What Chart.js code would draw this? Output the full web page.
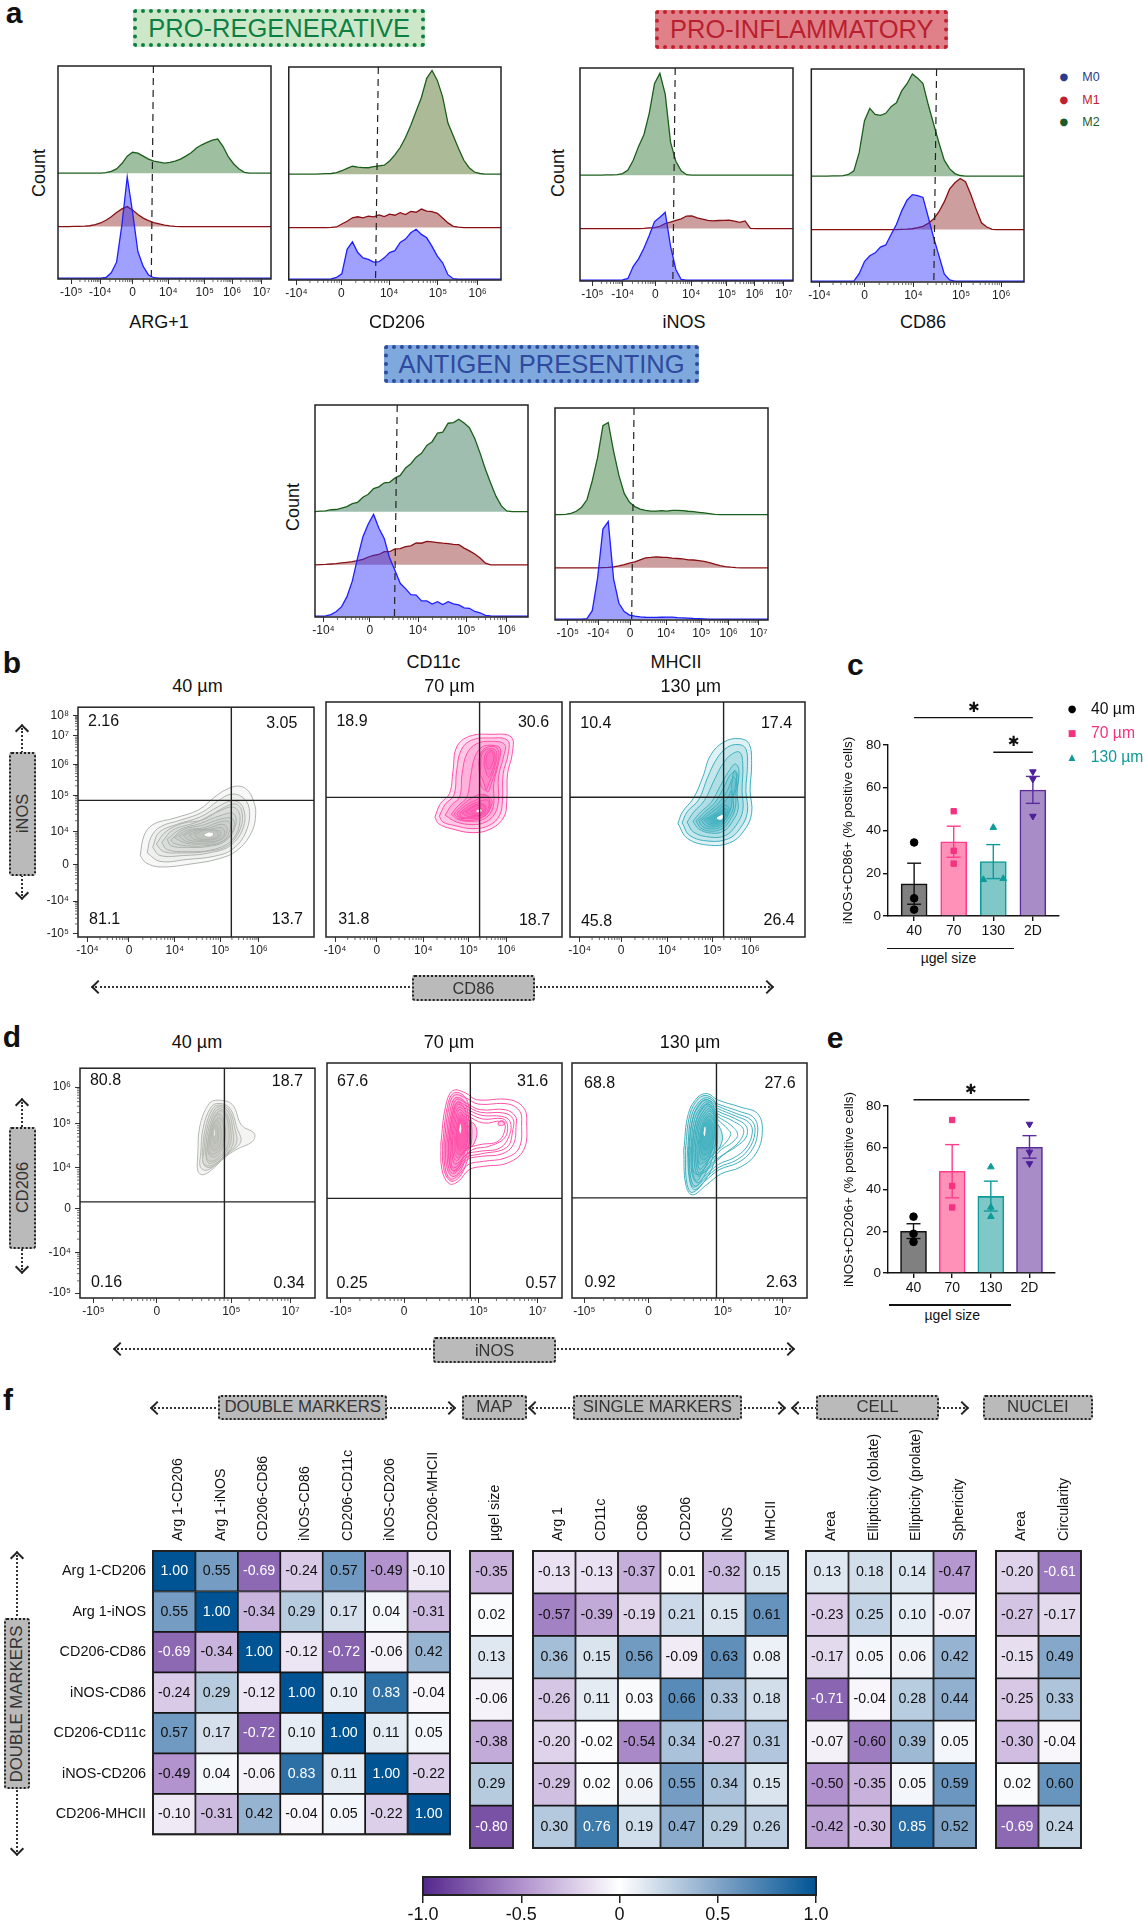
<!DOCTYPE html>
<html>
<head>
<meta charset="utf-8">
<title>Macrophage marker panels</title>
<script src="https://cdn.jsdelivr.net/npm/chart.js@4/dist/chart.umd.js"></script>
<style>
    html, body { margin: 0; padding: 0; background: #fff; }
    #figure { position: relative; width: 1143px; height: 1920px; overflow: hidden; font-family: "Liberation Sans", Arial, sans-serif; color: #111; }
    #figure canvas { position: absolute; }
    .txt { position: absolute; white-space: nowrap; transform: translate(-50%, -50%); line-height: 1; }
    .box { position: absolute; box-sizing: border-box; border-radius: 3px; display: flex; align-items: center; justify-content: center; white-space: nowrap; }
    .rule { position: absolute; background: #111; }
    .dots { position: absolute; box-sizing: border-box; }
    .chev { position: absolute; width: 10px; height: 10px; box-sizing: border-box; border-left: 2.5px solid #222; border-top: 2.5px solid #222; }
</style>
</head>
<body>
<div id="figure"></div>
<script>
// --- histogram data (panel a): heights in % of the plot, one value per channel ---
const channels = [0,2.5,5,7.5,10,12.5,15,17.5,20,22.5,25,27.5,30,32.5,35,37.5,40,42.5,45,47.5,50,52.5,55,57.5,60,62.5,65,67.5,70,72.5,75,77.5,80,82.5,85,87.5,90,92.5,95,97.5,100];
const baselines = [0.4, 24.6, 49.7];

const arg1M0 = [0,0,0,0,0,0,0,0,0,.3, 2.5,7.5,25,47.5,31,12.5,5.5,1.5,.2,0, 0,0,0,0,0,0,0,0,0,0, 0,0,0,0,0,0,0,0,0,0, 0];
const arg1M1 = [0,0,0,.1,.1,.2,.4,.9,1.7,3, 4.6,6.6,8.3,9.4,7.8,5.7,4,2.8,1.9,1.3, .7,.3,.1,0,0,0,0,0,0,0, 0,0,0,0,0,0,0,0,0,0, 0];
const arg1M2 = [0,0,0,0,0,0,0,0,0,.2, .8,2,4.5,8,9.8,9.4,8,6.6,5.6,5.2, 4.7,5.1,5.6,6.6,8,9.6,11.8,13.3,14.4,15.5, 16,12.5,7.6,4.3,1.9,.4,0,0,0,0, 0];
const cd206M0 = [0,0,0,0,0,0,0,0,.1,.8, 2.5,14,17.5,12.5,10,9.3,8,8.2,10,12.5, 13.4,17.2,18.8,21.8,23.4,21,19.4,15.4,10.8,7.7, 2.1,.2,0,0,0,0,0,0,0,0, 0];
const cd206M1 = [0,0,0,0,0,0,0,0,.1,.3, 1.7,3,4.6,5.1,4.6,5.4,5,6,5.2,6.3, 5.8,7,6.1,7.6,7.2,8.7,7.7,7.5,6.7,4.5, 2.2,.6,.2,0,0,0,0,0,0,0, 0];
const cd206M2 = [0,0,0,0,0,0,.1,.2,.3,.7, 1.6,2.7,3.7,3.3,3.1,3,3.5,3.9,4.2,6.2, 9,12.5,17.2,23,29.5,36,45,48.7,44,36.3, 24,18,12,6.5,3,1,.3,0,0,0, 0];
const inosM0 = [0,0,0,0,0,0,0,0,.1,.8, 6.5,10,15,21,27.5,29.5,31.8,16,5,.3, 0,0,0,0,0,0,0,0,0,0, 0,0,0,0,0,0,0,0,0,0, 0];
const inosM1 = [0,0,0,0,0,0,0,0,0,0, 0,0,.1,.3,.5,1.1,2.4,3,3.9,4.6, 5.9,6,5,4.5,3.9,3.6,3.8,3.9,4,3.5, 2.9,3.6,.1,0,0,0,0,0,0,0, 0];
const inosM2 = [0,0,0,0,0,.1,.1,.2,.7,2.4, 7,13.5,19,29,43,47.8,38,15.5,6.5,2, .2,0,0,0,0,0,0,0,0,0, 0,0,0,0,0,0,0,0,0,0, 0];
const cd86M0 = [0,0,0,0,0,0,0,0,0,3.5, 9.2,11.9,13.3,16,17,21.9,26.6,33,38,40.6, 40.2,39.3,30,20.5,12,3.4,.6,0,0,0, 0,0,0,0,0,0,0,0,0,0, 0];
const cd86M1 = [0,0,0,0,0,0,0,0,0,0, 0,0,0,0,0,0,0,.1,.2,.4, .9,1.5,3,5,8.4,13,19,22,24,22.5, 16.5,9.5,3.2,1.2,.1,0,0,0,0,0, 0];
const cd86M2 = [0,0,0,0,.1,.1,.2,.8,2.5,11, 26,31.8,29,28.5,29.5,32.6,34.4,40,43.4,48, 46,43.5,33.5,24.5,15.7,7.5,3.5,1.2,.3,0, 0,0,0,0,0,0,0,0,0,0, 0];
const cd11cM0 = [0,0,.1,.7,2.2,4.5,9.2,16.5,27.5,37.5, 43.5,48,41.5,36.6,27.5,21.6,15.5,13,10.1,9.9, 7.2,7.2,5.7,6.8,5.5,6.8,5.8,5.3,3.9,3.7, 2.2,1.6,.4,.1,0,0,0,0,0,0, 0];
const cd11cM1 = [0,.1,.2,.4,.6,.9,1.2,1.5,2,2.6, 3.7,4.5,4.9,6.2,6.2,7.5,7.7,8.6,9,10.3, 10.2,11.1,10.8,10.5,10.2,10,9.7,9.5,7.9,6.6, 5.1,3.2,.8,0,0,0,0,0,0,0, 0];
const cd11cM2 = [0,.2,.4,.9,1,1.7,2.4,3.8,4.4,6.8, 8.2,10.9,11.7,13.6,13.8,15.8,17.1,20.6,22.6,25.7, 27.5,31.2,33,37,37.5,41.7,42,43.6,41.8,39.6, 34.5,27.6,20,13.4,7.2,2.7,.3,0,0,0, 0];
const mhciiM0 = [0,0,0,0,0,0,.2,4,19.5,42.5, 46,19,7.5,3.6,1.9,1.4,1.1,.9,.8,.8, .9,1,1,.7,.6,.5,.3,.2,.1,0, 0,0,0,0,0,0,0,0,0,0, 0];
const mhciiM1 = [0,0,0,0,0,0,0,0,0,.1, .2,.5,.9,1.5,2.2,2.8,3.8,4.7,4.9,5.2, 5,4.9,4.6,4.4,4.2,3.8,3.7,3.4,3.1,2.5, 1.7,1,.6,.3,.1,0,0,0,0,0, 0];
const mhciiM2 = [0,0,.1,.6,1.6,3.5,7,16,27,42, 43.5,30,18.5,10,5.8,3.8,2.6,2,1.7,1.7, 1.9,1.7,2,2,1.9,1.6,1.4,1.1,.8,.5, .1,0,0,0,0,0,0,0,0,0, 0];

// histogram tick labels and where they sit on each channel axis
const longDecades = ['-10⁵','-10⁴','0','10⁴','10⁵','10⁶','10⁷'];
const shortDecades = ['-10⁴','0','10⁴','10⁵','10⁶'];
const arg1Ticks = [6.2,19.8,35,51.8,68.9,81.7,95.6];
const cd206Ticks = [3.6,24.8,47.3,70.3,89];
const inosTicks = [5.8,20,35.4,52.2,69,82,95.7];
const cd86Ticks = [3.8,25,48,70.4,89.3];
const cd11cTicks = [4,25.7,48.4,71,90];
const mhciiTicks = [6,20.4,35.3,52.2,68.7,81.5,95.6];

// dashed gates: channel at the top and at the bottom of the plot
const arg1Gate = [44.8,43.8];
const cd206Gate = [42.2,40.9];
const inosGate = [44.7,43.6];
const cd86Gate = [58.9,57.6];
const cd11cGate = [38.6,37.3];
const mhciiGate = [37.1,36];

// --- contour rings (panels b, d): flat x,y channel pairs, outermost ring first ---
const b40Rings = [
    [171,250,181,310,206,345,266,365,331,390,376,430,406,452,441,463,466,450,481,420,488,380,476,320,436,265,386,240,316,225,226,215,186,228],
    [190,258,200,305,226,338,280,358,340,382,385,418,420,438,450,430,470,395,462,325,425,270,375,248,300,238,225,232],
    [205,275,222,320,270,345,335,368,385,400,425,418,452,400,455,340,420,282,360,258,290,250,225,250],
    [215,285,240,322,285,348,345,360,392,392,432,408,450,385,445,330,410,280,350,262,285,258,235,262],
    [230,290,260,328,325,352,385,385,428,398,445,365,425,300,370,268,300,262,245,268],
    [245,300,280,330,335,348,390,372,428,378,432,340,405,295,360,278,300,275,255,280],
    [255,298,290,330,340,342,392,362,425,362,425,325,395,292,350,280,298,280,262,288],
    [265,305,300,328,345,335,395,355,418,350,410,310,385,288,345,285,295,288],
    [278,308,312,328,352,332,396,346,410,332,395,300,350,288,300,292],
    [290,312,325,328,360,330,395,335,402,315,380,295,345,293,305,297],
    [305,313,338,328,370,328,392,322,385,303,350,297,318,300],
    [320,315,350,328,380,325,385,310,360,300,330,302]
];
const b40Hole = [345,315,358,322,372,318,368,308,350,308];
const b70Rings = [
    [300,360,315,400,340,430,350,500,360,570,395,602,455,608,510,600,513,550,500,490,498,410,490,360,455,325,405,313,345,325,310,340],
    [312,362,328,398,352,425,360,500,372,560,400,590,455,597,500,590,502,550,488,490,486,410,478,365,450,335,405,325,352,335,322,345],
    [328,365,345,395,368,420,375,490,388,550,415,580,455,587,492,578,490,545,475,480,475,410,465,370,440,345,405,337,360,345],
    [345,368,365,395,388,420,398,480,410,540,430,570,460,575,480,565,475,520,462,460,462,400,452,370,430,352,400,347,365,352],
    [352,369,375,395,400,416,430,428,456,412,452,385,435,362,400,350,366,355],
    [432,470,422,500,428,555,455,572,475,560,470,510,458,468,445,435],
    [360,370,385,395,415,412,440,425,452,400,445,372,425,358,395,355,368,358],
    [368,371,392,392,420,406,446,410,447,385,432,366,395,358,372,360],
    [425,500,432,555,455,565,470,555,465,510,452,470,438,440,425,460],
    [435,515,440,552,457,560,466,545,460,505,448,480],
    [375,372,400,390,425,400,440,392,435,372,415,362,390,362],
    [385,375,410,392,432,395,440,385,425,367,400,366],
    [440,525,445,550,458,555,462,535,452,505,445,505],
    [400,378,420,388,432,380,425,370,405,370]
];
const b70Hole = [410,378,425,385,430,378,420,373];
const b130Rings = [
    [281,341,293,376,321,416,346,481,366,546,401,586,441,596,466,581,473,521,469,441,473,371,451,316,416,283,361,276,306,296],
    [292,343,305,376,335,412,358,478,382,535,410,570,440,578,458,565,462,515,458,440,462,375,442,325,412,295,362,288,312,305],
    [305,345,322,375,350,410,375,470,398,520,420,548,442,555,450,520,448,440,450,380,432,335,405,305,365,300,322,315],
    [320,348,340,375,368,405,392,455,412,495,430,520,440,500,435,430,438,385,422,345,400,318,368,312,335,325],
    [328,349,350,375,376,402,400,448,418,488,432,495,432,430,430,385,416,350,396,325,366,318,340,328],
    [335,350,360,375,385,400,410,440,425,480,432,470,425,420,425,385,410,352,392,330,365,325,345,332],
    [420,450,428,500,438,480,432,440,425,425],
    [342,351,368,374,394,398,412,420,420,440,420,392,402,348,388,334,364,331,352,336],
    [350,352,378,372,402,395,415,385,405,355,385,338,362,338],
    [358,353,384,372,404,386,410,378,402,357,384,342,365,342],
    [365,355,390,372,405,378,400,358,382,345,368,347],
    [372,356,394,370,404,372,398,356,383,349,372,350]
];
const b130Hole = [380,358,395,368,403,365,395,352,385,352];
const d40Rings = [
    [324,445,329,525,354,595,379,607,419,593,444,530,479,505,474,480,429,455,397,430,369,400,339,378,324,390],
    [332,445,338,520,360,585,382,597,412,582,432,520,442,480,410,445,385,420,360,398,342,392,330,405],
    [336,445,344,518,364,580,384,592,410,576,426,518,430,475,402,440,378,415,356,400,340,410],
    [340,445,348,515,368,575,385,587,408,570,420,515,420,470,395,435,372,412,352,405,338,415],
    [344,448,352,512,370,568,386,581,405,562,415,510,412,468,390,435,368,416,352,415],
    [348,450,356,510,372,560,388,575,403,555,410,505,405,465,385,435,365,420,350,425],
    [350,455,356,505,368,550,382,565,395,545,400,500,392,460,375,435,358,435],
    [354,458,360,510,372,545,385,552,394,530,395,490,386,458,370,442,358,442],
    [358,480,365,520,375,545,385,530,388,490,380,460,365,455],
    [364,490,368,520,375,530,380,510,378,480,370,475]
];
const d40Hole = [366,500,369,520,372,510,370,495];
const d70Rings = [
    [313,465,326,575,346,622,381,615,411,595,501,595,541,570,549,525,541,445,496,405,431,395,391,385,361,350,336,343,316,385],
    [322,465,334,565,350,608,382,600,415,582,498,582,530,560,535,525,528,450,490,420,430,410,388,400,358,365,338,358,324,395],
    [330,465,342,555,356,595,382,585,420,565,490,565,518,545,520,520,512,460,480,432,425,425,385,415,358,380,342,375,332,405],
    [334,465,345,550,358,588,382,577,422,557,486,555,511,538,511,505,494,452,422,432,384,422,358,388,344,383,336,412],
    [338,465,348,545,360,580,382,568,425,548,480,545,503,530,502,490,475,450,420,440,382,430,358,395,345,392,340,420],
    [342,468,351,540,362,572,382,559,428,537,482,538,496,520,488,480,445,455,400,445,358,403,347,408],
    [345,470,354,535,364,565,382,550,430,525,480,530,490,510,470,470,420,460,380,445,358,412,348,425],
    [318,465,330,570,348,615,378,605,392,560,398,480,385,410,362,360,338,352,320,392],
    [326,465,338,560,352,600,376,592,388,550,392,480,380,415,360,372,342,366,328,400],
    [334,465,345,550,358,585,375,575,384,540,386,480,375,425,358,385,346,382,336,410],
    [349,470,357,530,366,557,382,540,410,512,405,465,380,440,361,420,351,432],
    [352,470,360,525,368,550,382,530,395,490,385,450,365,430,354,440],
    [355,475,361,520,369,542,381,522,388,485,378,450,362,442],
    [358,480,363,515,370,535,380,515,382,480,372,450,360,455],
    [470,525,480,532,490,525,482,518,472,518]
];
const d70Hole = [362,505,366,525,370,515,369,495,364,495];
const d130Rings = [
    [290,442,302,552,327,602,352,612,377,594,437,572,482,552,494,497,477,432,437,392,387,372,347,337,312,309,295,342],
    [300,442,310,545,332,590,352,600,377,582,432,560,472,540,482,497,465,440,430,405,383,385,345,350,318,325,305,355],
    [304,443,314,540,335,584,352,594,378,575,428,552,466,532,475,496,458,445,425,412,382,392,345,358,321,335,308,362],
    [308,445,318,535,338,578,352,588,378,568,425,545,460,525,468,495,452,450,420,420,380,400,345,365,325,345,312,370],
    [312,447,322,530,341,571,354,581,378,560,422,538,452,515,452,482,428,455,392,428,362,395,335,372,316,377],
    [316,450,326,525,344,565,355,575,378,552,418,530,445,505,435,470,405,440,375,415,345,382,330,365,320,385],
    [320,452,329,522,346,558,356,567,378,544,412,518,430,490,415,465,388,445,358,408,331,375,323,395],
    [324,455,333,520,348,552,358,560,378,535,405,505,412,490,395,460,370,435,345,400,332,385,326,405],
    [294,442,306,550,329,598,352,606,372,585,378,500,372,420,350,360,312,316,298,345],
    [302,442,314,540,334,586,352,594,368,572,374,500,366,425,345,370,318,332,306,355],
    [310,446,322,530,340,574,354,582,366,560,370,500,360,430,340,380,324,350,314,372],
    [327,457,336,515,349,546,359,552,376,525,390,490,385,455,365,428,345,408,330,402],
    [330,460,338,510,350,540,360,545,375,515,375,470,362,440,345,415,334,420],
    [333,465,340,507,351,532,360,532,370,500,365,460,352,432,338,432],
    [336,470,342,505,352,525,360,520,365,485,355,450,342,445]
];
const d130Hole = [340,495,344,515,348,510,346,485,342,485];

// quadrant gates [vertical channel, horizontal channel]
const b40Gate = [421,419];
const b70Gate = [423,419];
const b130Gate = [400,420];
const d40Gate = [397,295];
const d70Gate = [394,299];
const d130Gate = [375,300];

const b40XTicks = [26,140,266,391,496];
const b70XTicks = [25,140,268,393,497];
const b130XTicks = [25,133,253,371,470];
const bYTicks = [680,617,530,435,323,223,110,10];
const bYLabels = ['10⁸','10⁷','10⁶','10⁵','10⁴','0','-10⁴','-10⁵'];
const dXLabels = ['-10⁵','0','10⁵','10⁷'];
const d40XTicks = [37,211,416,579];
const d70XTicks = [38,212,417,579];
const d130XTicks = [32,199,392,547];
const dYTicks = [647,535,399,275,140,15];
const dYLabels = ['10⁶','10⁵','10⁴','0','-10⁴','-10⁵'];

// --- bar data (panels c, e) ---
const sizeLabels = ['40','70','130','2D'];
const cMeans = [15,34.7,25.5,58.9];
const cSemLow = [5.5,27.5,17.5,52.7];
const cSemHigh = [24.7,42,33.4,65.3];
const cPoints40 = [34.4,8.3,3];
const cPoints70 = [49,30.5,24.5];
const cPoints130 = [41.4,17,17.5];
const cPoints2D = [67.5,64,46.7];
const eMeans = [20,48.7,36.7,60.2];
const eSemLow = [16.5,36,29.7,55];
const eSemHigh = [23.6,61.5,44,65.8];
const ePoints40 = [27,18.8,14.9];
const ePoints70 = [73.3,41.7,31.4];
const ePoints130 = [50.8,31.5,27];
const ePoints2D = [71.3,57.9,52.4];

// --- correlation matrix (panel f) ---
const rowLabels = ['Arg 1-CD206','Arg 1-iNOS','CD206-CD86','iNOS-CD86','CD206-CD11c','iNOS-CD206','CD206-MHCII'];
const doubleColumns = ['Arg 1-CD206','Arg 1-iNOS','CD206-CD86','iNOS-CD86','CD206-CD11c','iNOS-CD206','CD206-MHCII'];
const mapColumns = ['µgel size'];
const singleColumns = ['Arg 1','CD11c','CD86','CD206','iNOS','MHCII'];
const cellColumns = ['Area','Ellipticity (oblate)','Ellipticity (prolate)','Sphericity'];
const nucleiColumns = ['Area','Circularity'];
const doubleValues = [
    [1,.55,-.69,-.24,.57,-.49,-.10],
    [.55,1,-.34,.29,.17,.04,-.31],
    [-.69,-.34,1,-.12,-.72,-.06,.42],
    [-.24,.29,-.12,1,.10,.83,-.04],
    [.57,.17,-.72,.10,1,.11,.05],
    [-.49,.04,-.06,.83,.11,1,-.22],
    [-.10,-.31,.42,-.04,.05,-.22,1]
];
const mapValues = [[-.35],[.02],[.13],[-.06],[-.38],[.29],[-.80]];
const singleValues = [
    [-.13,-.13,-.37,.01,-.32,.15],
    [-.57,-.39,-.19,.21,.15,.61],
    [.36,.15,.56,-.09,.63,.08],
    [-.26,.11,.03,.66,.33,.18],
    [-.20,-.02,-.54,.34,-.27,.31],
    [-.29,.02,.06,.55,.34,.15],
    [.30,.76,.19,.47,.29,.26]
];
const cellValues = [
    [.13,.18,.14,-.47],
    [-.23,.25,.10,-.07],
    [-.17,.05,.06,.42],
    [-.71,-.04,.28,.44],
    [-.07,-.60,.39,.05],
    [-.50,-.35,.05,.59],
    [-.42,-.30,.85,.52]
];
const nucleiValues = [
    [-.20,-.61],
    [-.27,-.17],
    [-.15,.49],
    [-.25,.33],
    [-.30,-.04],
    [.02,.60],
    [-.69,.24]
];
const colorbarTicks = [-1,-.5,0,.5,1];
const colorbarLabels = ['-1.0','-0.5','0','0.5','1.0'];
const scaleStops = [
    [-1,[84,40,140]],
    [-.5,[176,145,205]],
    [0,[255,255,255]],
    [.5,[130,165,200]],
    [1,[0,84,148]]
];

const figure = document.getElementById('figure');
const FONT = '"Liberation Sans", Arial, sans-serif';

/**
 * Absolutely placed text, centred on (cx, cy)
 */
function addText(str, cx, cy, size, opts = {}) {
    const el = document.createElement('div');
    el.className = 'txt';
    el.textContent = str;
    el.style.left = cx + 'px';
    el.style.top = cy + 'px';
    el.style.fontSize = size + 'px';
    if (opts.color) el.style.color = opts.color;
    if (opts.weight) el.style.fontWeight = opts.weight;
    if (opts.family) el.style.fontFamily = opts.family;
    if (opts.rotate) el.style.transform = `translate(-50%, -50%) rotate(${opts.rotate}deg)`;
    figure.appendChild(el);
}

/**
 * Dotted label box, used for banners and the grey axis tags
 */
function addBox(str, x0, y0, x1, y1, opts) {
    const el = document.createElement('div');
    el.className = 'box';
    el.style.left = x0 + 'px';
    el.style.top = y0 + 'px';
    el.style.width = (x1 - x0) + 'px';
    el.style.height = (y1 - y0) + 'px';
    el.style.background = opts.fill;
    el.style.border = `${opts.dot}px dotted ${opts.line}`;
    el.style.color = opts.color;
    el.style.fontSize = opts.size + 'px';
    const span = document.createElement('span');
    span.textContent = str;
    if (opts.vertical) span.style.transform = 'rotate(-90deg)';
    el.appendChild(span);
    figure.appendChild(el);
}

function addTag(str, x0, y0, x1, y1, size, vertical) {
    addBox(str, x0, y0, x1, y1, { fill: '#bbbaba', dot: 2.5, line: '#222', color: '#333', size: size, vertical: vertical });
}

function addRule(x0, x1, y) {
    const el = document.createElement('div');
    el.className = 'rule';
    el.style.left = x0 + 'px';
    el.style.top = (y - 0.75) + 'px';
    el.style.width = (x1 - x0) + 'px';
    el.style.height = '1.5px';
    figure.appendChild(el);
}

function addChevron(x, y, deg) {
    const el = document.createElement('div');
    el.className = 'chev';
    el.style.left = (x - 5) + 'px';
    el.style.top = (y - 5) + 'px';
    el.style.transform = `rotate(${deg}deg)`;
    figure.appendChild(el);
}

/**
 * Dotted double-headed arrows behind the tags
 */
function addArrowH(x0, x1, y) {
    const el = document.createElement('div');
    el.className = 'dots';
    el.style.left = x0 + 'px';
    el.style.top = (y - 1) + 'px';
    el.style.width = (x1 - x0) + 'px';
    el.style.borderTop = '2px dotted #333';
    figure.appendChild(el);
    addChevron(x0 + 3, y, -45);
    addChevron(x1 - 3, y, 135);
}

function addArrowV(x, y0, y1) {
    const el = document.createElement('div');
    el.className = 'dots';
    el.style.left = (x - 1) + 'px';
    el.style.top = y0 + 'px';
    el.style.height = (y1 - y0) + 'px';
    el.style.borderLeft = '2px dotted #333';
    figure.appendChild(el);
    addChevron(x, y0 + 3, 45);
    addChevron(x, y1 - 3, 225);
}

/**
 * Create a chart whose plot area lands on the box [x0, y0, x1, y1];
 * the canvas is larger by margin m on each side
 */
function addChart(box, m, config) {
    const canvas = document.createElement('canvas');
    canvas.width = Math.round(box[2] - box[0] + m.l + m.r);
    canvas.height = Math.round(box[3] - box[1] + m.t + m.b);
    canvas.style.left = (box[0] - m.l) + 'px';
    canvas.style.top = (box[1] - m.t) + 'px';
    figure.appendChild(canvas);
    const opts = config.options;
    opts.responsive = false;
    opts.animation = false;
    opts.devicePixelRatio = 1;
    opts.plugins = Object.assign({ legend: { display: false }, tooltip: { enabled: false } }, opts.plugins);
    return new Chart(canvas.getContext('2d'), config);
}

// Box around the plot area
const framePlugin = {
    id: 'frame',
    afterDraw(chart, args, options) {
        const a = chart.chartArea;
        const ctx = chart.ctx;
        ctx.save();
        ctx.strokeStyle = options.color || '#222';
        ctx.lineWidth = options.width || 1.5;
        ctx.strokeRect(a.left, a.top, a.right - a.left, a.bottom - a.top);
        ctx.restore();
    }
};

// Short unlabelled ticks along the log axes
const minorTicksPlugin = {
    id: 'minorTicks',
    afterDraw(chart, args, options) {
        const a = chart.chartArea;
        const ctx = chart.ctx;
        ctx.save();
        ctx.strokeStyle = '#444';
        ctx.lineWidth = 0.8;
        ctx.beginPath();
        (options.x || []).forEach(v => {
            const px = chart.scales.x.getPixelForValue(v);
            ctx.moveTo(px, a.bottom);
            ctx.lineTo(px, a.bottom + 3);
        });
        (options.y || []).forEach(v => {
            const py = chart.scales.y.getPixelForValue(v);
            ctx.moveTo(a.left, py);
            ctx.lineTo(a.left - 3, py);
        });
        ctx.stroke();
        ctx.restore();
    }
};

// Values printed in the correlation cells
const cellLabelPlugin = {
    id: 'cellLabels',
    afterDatasetsDraw(chart) {
        const ctx = chart.ctx;
        ctx.save();
        ctx.font = '14.2px ' + FONT;
        ctx.textAlign = 'center';
        ctx.textBaseline = 'middle';
        chart.data.datasets.forEach((ds, i) => {
            chart.getDatasetMeta(i).data.forEach((bar, j) => {
                const v = ds.values[j];
                ctx.fillStyle = (v <= -0.61 || v >= 0.7) ? '#fff' : '#111';
                ctx.fillText(v.toFixed(2), bar.x, (bar.y + bar.base) / 2);
            });
        });
        ctx.restore();
    }
};

/**
 * Minor tick channels between labelled decades
 */
function minorBetween(anchors) {
    const out = [];
    for (let i = 0; i < anchors.length - 1; i++) {
        for (let k = 2; k < 10; k++) {
            out.push(anchors[i] + (anchors[i + 1] - anchors[i]) * Math.log10(k));
        }
    }
    return out;
}

function fixedTicks(positions, labels) {
    return {
        afterBuildTicks: axis => { axis.ticks = positions.map(v => ({ value: v })); },
        callback: v => labels[positions.indexOf(v)]
    };
}

function pairs(flat) {
    const out = [];
    for (let i = 0; i + 1 < flat.length; i += 2) {
        out.push({ x: flat[i], y: flat[i + 1] });
    }
    out.push({ x: flat[0], y: flat[1] });
    return out;
}

function logAxisX(width, positions, labels, height, size) {
    const t = fixedTicks(positions, labels);
    return {
        type: 'linear', min: 0, max: width,
        afterBuildTicks: t.afterBuildTicks,
        afterFit: s => { s.height = height; },
        grid: { drawOnChartArea: false, tickLength: 5, color: '#333' },
        border: { display: false },
        ticks: { callback: t.callback, autoSkip: false, maxRotation: 0, padding: 1, color: '#222', font: { size: size, family: FONT } }
    };
}

/**
 * Panel a: stacked offset histogram for one marker
 */
function initHistogram(box, m0, m1, m2, gate, tickPos, tickLabels, m2Fill) {
    const style = [
        { line: '#1f1fff', fill: 'rgba(45,45,255,0.45)' },
        { line: '#8a0f14', fill: 'rgba(135,25,25,0.42)' },
        { line: '#1c5f1c', fill: m2Fill || 'rgba(45,115,50,0.46)' }
    ];
    const gateSet = {
        data: [{ x: gate[0], y: 100 }, { x: gate[1], y: 0 }],
        borderColor: '#222', borderWidth: 1.2, borderDash: [7, 5], pointRadius: 0, showLine: true
    };
    const curves = [m0, m1, m2].map((h, i) => ({
        data: h.map((v, j) => ({ x: channels[j], y: baselines[i] + v })),
        borderColor: style[i].line,
        backgroundColor: style[i].fill,
        borderWidth: 1.3,
        pointRadius: 0,
        showLine: true,
        tension: 0,
        fill: { value: baselines[i] }
    }));
    addChart(box, { l: 4, t: 4, r: 14, b: 30 }, {
        type: 'scatter',
        data: { datasets: [gateSet].concat(curves) },
        options: {
            layout: { autoPadding: false, padding: { left: 4, top: 4, right: 14, bottom: 0 } },
            scales: {
                x: logAxisX(100, tickPos, tickLabels, 30, 12),
                y: { display: false, min: 0, max: 100 }
            },
            plugins: { minorTicks: { x: minorBetween(tickPos) } }
        },
        plugins: [framePlugin, minorTicksPlugin]
    });
}

/**
 * Panels b, d: contour plot with quadrant gates
 */
function initContour(box, size, rings, hole, gate, xPos, xLabels, yPos, yLabels, colors) {
    const gateSets = [
        { data: [{ x: gate[0], y: 0 }, { x: gate[0], y: size[1] }], borderColor: '#222', borderWidth: 1.4, pointRadius: 0, showLine: true },
        { data: [{ x: 0, y: gate[1] }, { x: size[0], y: gate[1] }], borderColor: '#222', borderWidth: 1.4, pointRadius: 0, showLine: true }
    ];
    const holeSet = {
        data: pairs(hole), borderColor: colors.line, backgroundColor: '#fff', borderWidth: 1,
        pointRadius: 0, showLine: true, tension: 0.4, fill: 'shape'
    };
    const fillFrom = colors.fillFrom || 0;
    const ringSets = rings.map((r, i) => ({
        data: pairs(r), borderColor: colors.line, backgroundColor: colors.fill, borderWidth: 1,
        pointRadius: 0, showLine: true, tension: 0.4, fill: i >= fillFrom ? 'shape' : false
    })).reverse();
    const showY = !!yPos;
    const yAxis = { type: 'linear', min: 0, max: size[1], display: showY };
    if (showY) {
        const t = fixedTicks(yPos, yLabels);
        yAxis.afterBuildTicks = t.afterBuildTicks;
        yAxis.afterFit = s => { s.width = 40; };
        yAxis.grid = { drawOnChartArea: false, tickLength: 5, color: '#333' };
        yAxis.border = { display: false };
        yAxis.ticks = { callback: t.callback, autoSkip: false, padding: 4, color: '#222', font: { size: 12, family: FONT } };
    }
    addChart(box, { l: 40, t: 6, r: 14, b: 34 }, {
        type: 'scatter',
        data: { datasets: gateSets.concat([holeSet], ringSets) },
        options: {
            layout: { autoPadding: false, padding: { left: showY ? 0 : 40, top: 6, right: 14, bottom: 0 } },
            scales: { x: logAxisX(size[0], xPos, xLabels, 34, 12), y: yAxis },
            plugins: { minorTicks: { x: minorBetween(xPos), y: showY ? minorBetween(yPos.slice().reverse()) : [] } }
        },
        plugins: [framePlugin, minorTicksPlugin]
    });
}

/**
 * Panels c, e: bars with SEM whiskers and replicate points
 */
function initBars(box, leftMargin, title, means, low, high, points, sigLines, scatterOffsets) {
    const barFill = ['#808080','#ff90b8','#80c8c8','#a88cc8'];
    const barLine = ['#111','#ff3c8c','#109a9a','#5b2c9b'];
    const markLine = ['#000','#f5327f','#0f9a9a','#4d1f99'];
    const marks = ['circle','rect','triangle','triangle'];
    const sets = [];
    points.forEach((vals, i) => {
        sets.push({
            type: 'scatter', order: 0,
            data: vals.map((v, j) => ({ x: i + scatterOffsets[i][j], y: v })),
            backgroundColor: markLine[i], borderColor: markLine[i],
            pointStyle: marks[i], pointRadius: 3.8, pointRotation: i === 3 ? 180 : 0
        });
        sets.push({
            type: 'line', order: 1,
            data: [{ x: i, y: low[i] }, { x: i, y: high[i] }],
            borderColor: barLine[i], borderWidth: 1.4, fill: false,
            pointStyle: 'line', pointRadius: 7, pointBorderColor: barLine[i], pointBorderWidth: 1.4
        });
    });
    sigLines.forEach(s => {
        sets.push({
            type: 'line', order: 0, clip: false,
            data: [{ x: s[0], y: s[2] }, { x: s[1], y: s[2] }],
            borderColor: '#111', borderWidth: 1.4, pointRadius: 0, fill: false
        });
    });
    sets.push({
        type: 'bar', order: 2,
        data: means.map((v, i) => ({ x: i, y: v })),
        backgroundColor: barFill, borderColor: barLine, borderWidth: 1.6, barThickness: 26
    });
    const t = fixedTicks([0, 1, 2, 3], sizeLabels);
    addChart(box, { l: leftMargin, t: 50, r: 6, b: 28 }, {
        type: 'bar',
        data: { datasets: sets },
        options: {
            layout: { autoPadding: false, padding: { left: 0, top: 50, right: 6, bottom: 0 } },
            scales: {
                x: {
                    type: 'linear', min: -0.66, max: 3.66, offset: false,
                    afterBuildTicks: t.afterBuildTicks,
                    afterFit: s => { s.height = 28; },
                    grid: { drawOnChartArea: false, offset: false, tickLength: 5, color: '#111', lineWidth: 1.4 },
                    border: { color: '#111', width: 1.4 },
                    ticks: { callback: t.callback, autoSkip: false, maxRotation: 0, padding: 2, color: '#111', font: { size: 14, family: FONT } }
                },
                y: {
                    min: 0, max: 80,
                    afterFit: s => { s.width = leftMargin; },
                    grid: { drawOnChartArea: false, tickLength: 5, color: '#111', lineWidth: 1.4 },
                    border: { color: '#111', width: 1.4 },
                    ticks: { stepSize: 20, padding: 2, color: '#111', font: { size: 13.5, family: FONT } },
                    title: { display: true, text: title, color: '#111', padding: 0, font: { size: 13.5, family: FONT } }
                }
            }
        }
    });
}

function scaleColor(v) {
    for (let i = 0; i < scaleStops.length - 1; i++) {
        const a = scaleStops[i];
        const b = scaleStops[i + 1];
        if (v <= b[0]) {
            const f = (v - a[0]) / (b[0] - a[0]);
            const c = a[1].map((x, k) => Math.round(x + (b[1][k] - x) * f));
            return `rgb(${c[0]},${c[1]},${c[2]})`;
        }
    }
    return 'rgb(0,84,148)';
}

/**
 * Panel f: one block of the correlation matrix, a stack of one-high bars per row
 */
function initMatrix(x0, x1, columns, rows, showRows) {
    const box = [x0, 1550.8, x1, 1847.6];
    // blocks without row labels still need room for the rotated label padding
    const left = showRows ? 110 : 24;
    const rowTicks = [.5, 1.5, 2.5, 3.5, 4.5, 5.5, 6.5];
    const t = fixedTicks(rowTicks, rowLabels);
    const datasets = rows.map(row => ({
        values: row,
        data: row.map(() => 1),
        backgroundColor: row.map(scaleColor),
        borderColor: '#151515',
        borderWidth: 1.2,
        borderSkipped: false,
        barPercentage: 1,
        categoryPercentage: 1
    }));
    const yAxis = { display: showRows, stacked: true, reverse: true, min: 0, max: 7 };
    if (showRows) {
        yAxis.afterBuildTicks = t.afterBuildTicks;
        yAxis.afterFit = s => { s.width = left; };
        yAxis.grid = { display: false, drawTicks: false };
        yAxis.border = { display: false };
        yAxis.ticks = { callback: t.callback, autoSkip: false, padding: 7, color: '#111', font: { size: 14.4, family: FONT } };
    }
    addChart(box, { l: left, t: 135, r: 2, b: 2 }, {
        type: 'bar',
        data: { labels: columns, datasets: datasets },
        options: {
            layout: { autoPadding: false, padding: { left: showRows ? 0 : left, top: 0, right: 2, bottom: 2 } },
            scales: {
                x: {
                    position: 'top', stacked: true,
                    afterFit: s => { s.height = 135; },
                    grid: { display: false, drawTicks: false },
                    border: { display: false },
                    ticks: { autoSkip: false, minRotation: 90, maxRotation: 90, labelOffset: 21, padding: 10, color: '#111', font: { size: 14.2, family: FONT } }
                },
                y: yAxis
            },
            plugins: { frame: { color: '#222', width: 2 } }
        },
        plugins: [cellLabelPlugin, framePlugin]
    });
}

function initColorbar() {
    const t = fixedTicks(colorbarTicks, colorbarLabels);
    addChart([422.9, 1876.6, 816, 1894.1], { l: 24, t: 2, r: 24, b: 26 }, {
        type: 'bar',
        data: {
            labels: [''],
            datasets: [{
                data: [[-1, 1]],
                barPercentage: 1,
                categoryPercentage: 1,
                backgroundColor: ctx => {
                    const a = ctx.chart.chartArea;
                    if (!a) return '#fff';
                    const g = ctx.chart.ctx.createLinearGradient(a.left, 0, a.right, 0);
                    scaleStops.forEach(s => g.addColorStop((s[0] + 1) / 2, scaleColor(s[0])));
                    return g;
                }
            }]
        },
        options: {
            indexAxis: 'y',
            layout: { autoPadding: false, padding: { left: 24, top: 2, right: 24, bottom: 0 } },
            scales: {
                x: {
                    type: 'linear', min: -1, max: 1,
                    afterBuildTicks: t.afterBuildTicks,
                    afterFit: s => { s.height = 26; },
                    grid: { drawOnChartArea: false, tickLength: 8, color: '#222', lineWidth: 1.5 },
                    border: { display: false },
                    ticks: { callback: t.callback, autoSkip: false, maxRotation: 0, padding: 1, color: '#111', font: { size: 18, family: FONT } }
                },
                y: { display: false }
            },
            plugins: { frame: { color: '#222', width: 2 } }
        },
        plugins: [framePlugin]
    });
}

function initPanelA() {
    addBox('PRO-REGENERATIVE', 132.7, 9.3, 425.5, 47.3, { fill: '#cde8c8', dot: 4, line: '#0c8044', color: '#0e7f44', size: 25.5 });
    addBox('PRO-INFLAMMATORY', 655.2, 10, 948.3, 49, { fill: '#e0818a', dot: 4, line: '#c2202f', color: '#b91f2e', size: 25.5 });
    addBox('ANTIGEN PRESENTING', 384, 345, 699, 383, { fill: '#7fa9dc', dot: 4, line: '#2d4a9c', color: '#2e4a9e', size: 25.5 });

    initHistogram([57.8, 66, 270.5, 279.3], arg1M0, arg1M1, arg1M2, arg1Gate, arg1Ticks, longDecades);
    initHistogram([287.6, 66.7, 500.4, 279.3], cd206M0, cd206M1, cd206M2, cd206Gate, cd206Ticks, shortDecades, 'rgba(105,130,65,0.55)');
    initHistogram([580.2, 68, 793, 281], inosM0, inosM1, inosM2, inosGate, inosTicks, longDecades);
    initHistogram([810.5, 69, 1023.2, 281.6], cd86M0, cd86M1, cd86M2, cd86Gate, cd86Ticks, shortDecades);
    initHistogram([314.7, 405.3, 527.3, 617.7], cd11cM0, cd11cM1, cd11cM2, cd11cGate, cd11cTicks, shortDecades, 'rgba(55,120,90,0.48)');
    initHistogram([555, 408, 767.7, 620], mhciiM0, mhciiM1, mhciiM2, mhciiGate, mhciiTicks, longDecades);

    addText('ARG+1', 159, 322, 18);
    addText('CD206', 397, 322, 18);
    addText('iNOS', 684, 322, 18);
    addText('CD86', 923, 322, 18);
    addText('CD11c', 433.3, 661.7, 18);
    addText('MHCII', 676, 661.7, 18);
    addText('Count', 39.3, 172.7, 18, { rotate: -90 });
    addText('Count', 557.5, 172.7, 18, { rotate: -90 });
    addText('Count', 293, 506.7, 18, { rotate: -90 });

    const legend = [['M0', '#2b3a8c', 77], ['M1', '#c02030', 100], ['M2', '#1f5a2c', 122]];
    legend.forEach(item => {
        addText('●', 1063.8, item[2], 10, { color: item[1], family: 'DejaVu Sans' });
        addText(item[0], 1091, item[2], 12.5, { color: item[1] });
    });
}

function initPanelB() {
    const gray = { line: '#aeb2ac', fill: 'rgba(170,175,165,0.1)' };
    const pink = { line: '#ff4fa8', fill: 'rgba(255,70,165,0.16)' };
    const teal = { line: '#3fb0bd', fill: 'rgba(50,170,185,0.15)' };
    initContour([77.8, 701.7, 313.5, 936.7], [648, 705], b40Rings, b40Hole, b40Gate, b40XTicks, shortDecades, bYTicks, bYLabels, gray);
    initContour([325.5, 701.7, 561.8, 936.7], [650, 705], b70Rings, b70Hole, b70Gate, b70XTicks, shortDecades, null, null, pink);
    initContour([570.4, 701.7, 805.8, 937], [612, 706], b130Rings, b130Hole, b130Gate, b130XTicks, shortDecades, null, null, teal);

    addText('40 µm', 197.5, 686, 18);
    addText('70 µm', 449.5, 686, 18);
    addText('130 µm', 690.8, 686, 18);
    [['2.16',103.6,720.7],['3.05',281.8,722.7],['81.1',104.7,919.3],['13.7',287.3,919.3],
     ['18.9',352,721],['30.6',533.5,721.7],['31.8',353.8,919.3],['18.7',534.5,920],
     ['10.4',595.8,722.7],['17.4',776.5,722.7],['45.8',596.5,920.7],['26.4',779.2,920]]
        .forEach(q => addText(q[0], q[1], q[2], 16));

    addArrowV(21.8, 728, 896);
    addTag('iNOS', 8.7, 751.7, 35.6, 875.7, 16.4, true);
    addArrowH(95.3, 770, 986.7);
    addTag('CD86', 411.6, 975, 535.3, 1001, 16.4, false);
}

function initPanelC() {
    const offsets = [[0, 0, 0], [0, 0, 0], [0, -0.25, 0.25], [0, 0, 0]];
    initBars([888, 745.3, 1059, 916], 48, 'iNOS+CD86+ (% positive cells)', cMeans, cSemLow, cSemHigh,
        [cPoints40, cPoints70, cPoints130, cPoints2D], [[0, 3, 92.8], [2, 3, 76.6]], offsets);
    addText('✱', 973.8, 706.7, 14, { family: 'DejaVu Sans' });
    addText('✱', 1013.5, 740.7, 14, { family: 'DejaVu Sans' });
    addRule(887, 1013.8, 948.7);
    addText('µgel size', 948.5, 957.5, 14);
    addText('●', 1072, 709, 10, { color: '#000', family: 'DejaVu Sans' });
    addText('■', 1072, 733, 9, { color: '#f5327f', family: 'DejaVu Sans' });
    addText('▲', 1072, 757, 9, { color: '#0f9a9a', family: 'DejaVu Sans' });
    addText('40 µm', 1113, 709, 15.7);
    addText('70 µm', 1113, 733, 15.7, { color: '#f5327f' });
    addText('130 µm', 1117, 757, 15.7, { color: '#0f9a9a' });
}

function initPanelD() {
    const gray = { line: '#b4b8b0', fill: 'rgba(175,180,170,0.14)' };
    const pink = { line: '#ff4fa8', fill: 'rgba(255,70,165,0.26)', fillFrom: 7 };
    const teal = { line: '#3fb0bd', fill: 'rgba(50,170,185,0.26)', fillFrom: 8 };
    initContour([80.4, 1063.3, 315.3, 1298.3], [646, 705], d40Rings, d40Hole, d40Gate, d40XTicks, dXLabels, dYTicks, dYLabels, gray);
    initContour([326.9, 1063.3, 561.8, 1298.3], [646, 705], d70Rings, d70Hole, d70Gate, d70XTicks, dXLabels, null, null, pink);
    initContour([571.9, 1062.7, 806.5, 1297.3], [610, 704], d130Rings, d130Hole, d130Gate, d130XTicks, dXLabels, null, null, teal);

    addText('40 µm', 197, 1041.7, 18);
    addText('70 µm', 449, 1041.7, 18);
    addText('130 µm', 690, 1041.7, 18);
    [['80.8',105.5,1080],['18.7',287.3,1080.7],['0.16',106.5,1282],['0.34',289,1283.3],
     ['67.6',352.7,1080.7],['31.6',532.7,1080.7],['0.25',352,1283.3],['0.57',541,1282.7],
     ['68.8',599.6,1082.7],['27.6',780,1083.3],['0.92',600,1281.7],['2.63',781.5,1281.7]]
        .forEach(q => addText(q[0], q[1], q[2], 16));

    addArrowV(21.8, 1101.7, 1270);
    addTag('CD206', 8.7, 1126.7, 35.6, 1249.3, 16.4, true);
    addArrowH(117, 790.8, 1349);
    addTag('iNOS', 432.7, 1337.3, 556.4, 1363.3, 16.4, false);
}

function initPanelE() {
    const offsets = [[0, 0, 0], [0, 0, 0], [0, 0, 0], [0, 0, 0]];
    initBars([887.7, 1106.3, 1054.6, 1273.3], 47, 'iNOS+CD206+ (% positive cells)', eMeans, eSemLow, eSemHigh,
        [ePoints40, ePoints70, ePoints130, ePoints2D], [[0, 3, 83]], offsets);
    addText('✱', 970.8, 1089, 14, { family: 'DejaVu Sans' });
    addRule(889.2, 1010.8, 1305);
    addText('µgel size', 952.3, 1314.5, 14);
}

function initPanelF() {
    addArrowH(153.5, 452, 1407.5);
    addTag('DOUBLE MARKERS', 218.2, 1394.5, 387.3, 1420.3, 16.8, false);
    addTag('MAP', 461.8, 1394.5, 527.3, 1420.3, 16.8, false);
    addArrowH(532, 782, 1407.5);
    addTag('SINGLE MARKERS', 572.8, 1394.5, 741.7, 1420.3, 16.8, false);
    addArrowH(795.3, 965, 1407.5);
    addTag('CELL', 816, 1394.5, 939, 1420.3, 16.8, false);
    addTag('NUCLEI', 982.9, 1394.5, 1092.9, 1420.3, 16.8, false);
    addArrowV(17, 1555, 1851.8);
    addTag('DOUBLE MARKERS', 3.6, 1618.3, 30.5, 1788.8, 16.8, true);

    initMatrix(153, 450.2, doubleColumns, doubleValues, true);
    initMatrix(469.8, 513, mapColumns, mapValues, false);
    initMatrix(533.1, 787.8, singleColumns, singleValues, false);
    initMatrix(806, 976, cellColumns, cellValues, false);
    initMatrix(996, 1081, nucleiColumns, nucleiValues, false);
    initColorbar();
}

document.addEventListener('DOMContentLoaded', function() {
    initPanelA();
    initPanelB();
    initPanelC();
    initPanelD();
    initPanelE();
    initPanelF();

    addText('a', 14, 13, 30, { weight: 'bold' });
    addText('b', 12, 663, 30, { weight: 'bold' });
    addText('c', 855.4, 665, 30, { weight: 'bold' });
    addText('d', 12, 1037, 30, { weight: 'bold' });
    addText('e', 835, 1038, 30, { weight: 'bold' });
    addText('f', 8, 1400, 30, { weight: 'bold' });
});
</script>
</body>
</html>
